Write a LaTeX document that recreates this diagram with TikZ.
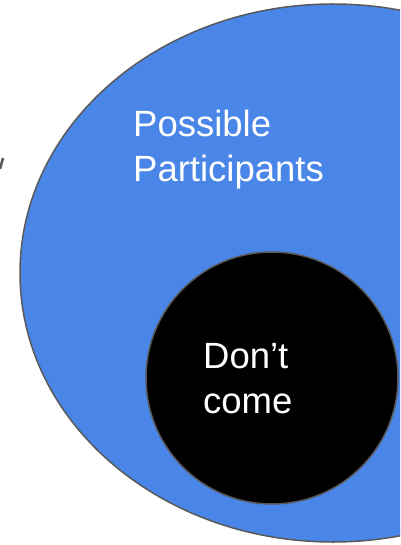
\documentclass[tikz,border=0pt]{standalone}
\usepackage{fontspec}
\setmainfont{Liberation Sans}
\usepackage{tikz}
\usetikzlibrary{shapes.geometric,positioning}

\definecolor{setblue}{HTML}{4A86E8}
\definecolor{rimgray}{HTML}{595959}

\begin{document}
\begin{tikzpicture}[
    x=1pt, y=-1pt,
    outerset/.style={ellipse, draw=rimgray, line width=1.5pt, fill=setblue,
                     minimum width=626pt, minimum height=538pt, inner sep=0pt},
    innerset/.style={circle, draw=rimgray, line width=1.5pt, fill=black,
                     minimum size=252pt, inner sep=0pt},
    setlabel/.style={text=white, align=left, inner sep=0pt, anchor=base west,
                     font=\fontsize{36.5}{45}\selectfont}
]

% ================= FRAME =================
\clip (0,0) rectangle (400,545);
\fill[white] (0,0) rectangle (400,545);

% ================= SETS =================
\node[outerset] (Possible) at (333, 273) {};
\node[innerset] (Absent) at (272, 378) {};

% ================= LABELS =================
% base anchor sits on the last line
\node[setlabel] (PossibleText) at (133, 182) {Possible\\Participants};
\node[setlabel] (AbsentText) at (203, 413) {Don’t\\come};

% stray stroke at the left edge
\coordinate (MarkA) at (0, 169);
\coordinate (MarkB) at (3, 158);
\draw[rimgray, line width=2.5pt] (MarkA) -- (MarkB);

\end{tikzpicture}
\end{document}
